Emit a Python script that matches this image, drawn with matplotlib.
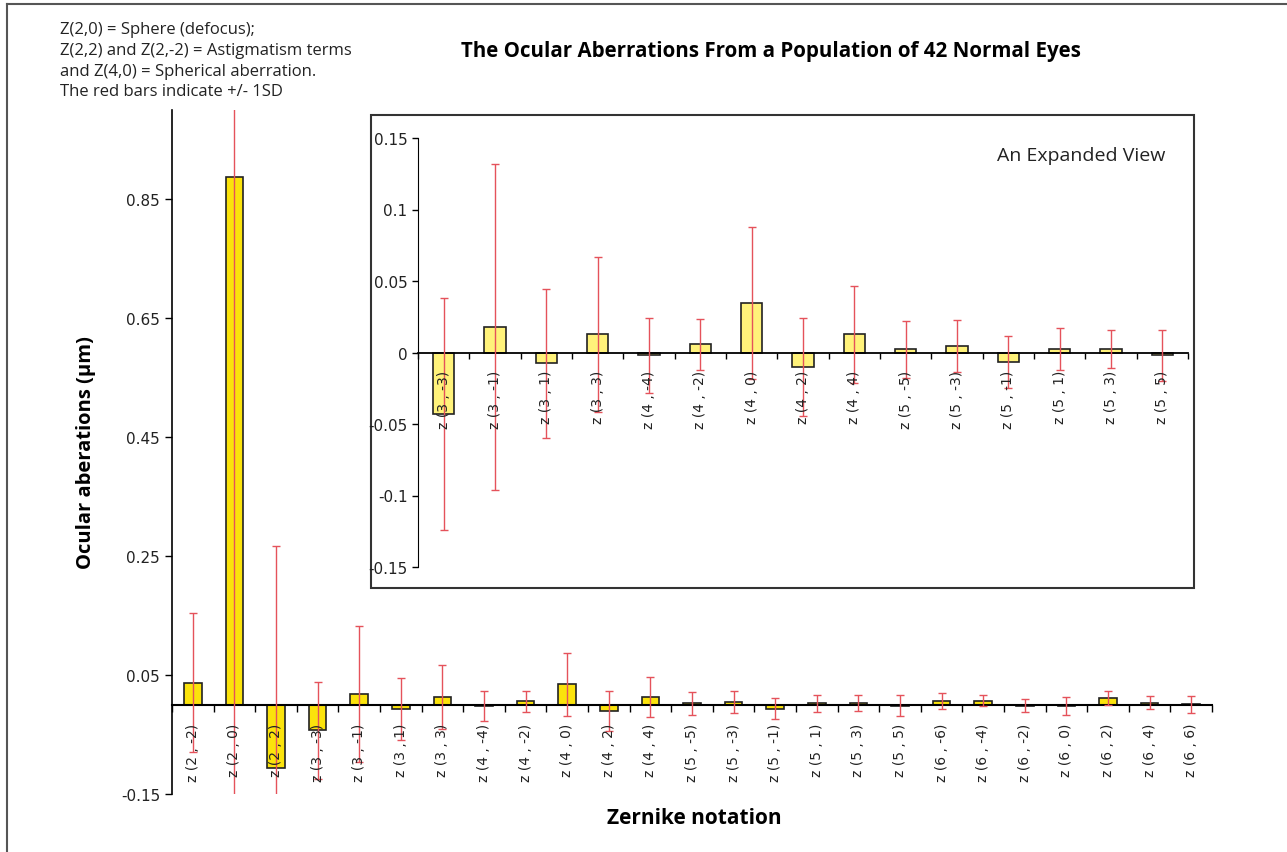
import matplotlib.pyplot as plt
import numpy as np
from matplotlib.lines import Line2D
from matplotlib.patches import Rectangle

plt.rcParams['font.family'] = ['DejaVu Sans']

# 25 zernike terms (main chart)
terms = ['2 , -2', '2 , 0', '2 , 2', '3 , -3', '3 , -1', '3 , 1', '3 , 3',
         '4 , -4', '4 , -2', '4 , 0', '4 , 2', '4 , 4', '5 , -5', '5 , -3',
         '5 , -1', '5 , 1', '5 , 3', '5 , 5', '6 , -6', '6 , -4', '6 , -2',
         '6 , 0', '6 , 2', '6 , 4', '6 , 6']
mean = [0.037, 0.888, -0.106, -0.043, 0.018, -0.0075, 0.0127,
        -0.002, 0.0056, 0.0345, -0.0102, 0.0127, 0.0023, 0.0044,
        -0.0065, 0.0023, 0.0023, -0.002, 0.0067, 0.0067, -0.0017,
        -0.002, 0.0118, 0.0034, 0.0005]
sd = [0.117, 1.08, 0.373, 0.081, 0.114, 0.052, 0.054,
      0.026, 0.0175, 0.053, 0.034, 0.034, 0.02, 0.018,
      0.018, 0.0146, 0.0134, 0.0177, 0.013, 0.009, 0.011,
      0.015, 0.012, 0.011, 0.0145]
# third to fifth order, shown in the inset
ins_start = 3
ins_end = 18

labels = ['z (' + t + ')' for t in terms]
n = len(labels)
x = np.arange(n)

fig = plt.figure(figsize=(12.87, 8.53), dpi=100)

# page frame (top and left only)
fig.add_artist(Line2D([0.0055, 0.0055], [0, 0.994], transform=fig.transFigure, color='#555555', lw=1.5))
fig.add_artist(Line2D([0.0055, 1], [0.994, 0.994], transform=fig.transFigure, color='#555555', lw=1.5))

red = '#e5525b'
ax = fig.add_axes([172 / 1287, 58 / 853, 1040 / 1287, 684 / 853])
ax.bar(x, mean, width=0.42, color='#fbe30c', edgecolor='#222222', linewidth=1.2, zorder=2)
ax.errorbar(x, mean, yerr=sd, fmt='none', ecolor=red, elinewidth=1, capsize=3, zorder=3)
ax.set_xlim(-0.5, n - 0.5)
ax.set_ylim(-0.15, 1.0)
ax.set_yticks([-0.15, 0.05, 0.25, 0.45, 0.65, 0.85])
ax.set_yticklabels(['-0.15', '0.05', '0.25', '0.45', '0.65', '0.85'], fontsize=11, color='#222222')
ax.spines['top'].set_visible(False)
ax.spines['right'].set_visible(False)
ax.spines['bottom'].set_position(('data', 0))
ax.spines['bottom'].set_linewidth(1.5)
ax.spines['left'].set_linewidth(1.2)
ax.tick_params(axis='y', length=5, width=1, direction='out')
ax.set_xticks(np.arange(n + 1) - 0.5)
ax.set_xticklabels([])
ax.tick_params(axis='x', length=5, width=1, direction='out')
for i, lab in enumerate(labels):
    ax.text(x[i], -0.03, lab, rotation=90, ha='center', va='top', fontsize=10, color='#222222', zorder=4)
ax.set_ylabel('Ocular aberations (µm)', family='Open Sans', fontweight='bold', fontsize=14.5, labelpad=18)
fig.text(694 / 1287, 1 - 819 / 853, 'Zernike notation', family='Open Sans', fontweight='bold',
         fontsize=15, ha='center', va='center')

fig.text(771 / 1287, 1 - 52 / 853, 'The Ocular Aberrations From a Population of 42 Normal Eyes',
         family='Open Sans', fontweight='bold', fontsize=14.8, ha='center', va='center')
fig.text(60 / 1287, 1 - 22 / 853,
         'Z(2,0) = Sphere (defocus);\nZ(2,2) and Z(2,-2) = Astigmatism terms\n'
         'and Z(4,0) = Spherical aberration.\nThe red bars indicate +/- 1SD',
         family='Open Sans', fontsize=12, ha='left', va='top', linespacing=1.4, color='#222222')

# inset frame
fig.add_artist(Rectangle((371 / 1287, 1 - 589 / 853), (1194 - 371) / 1287, (589 - 116) / 853,
                         transform=fig.transFigure, fill=True, facecolor='white',
                         edgecolor='#333333', lw=1.5, zorder=5))

xi = x[ins_start:ins_end]
mi = mean[ins_start:ins_end]
si = sd[ins_start:ins_end]
ni = len(xi)
ax2 = fig.add_axes([418 / 1287, 1 - 568 / 853, 770 / 1287, 429 / 853], zorder=6)
ax2.patch.set_alpha(0)
ax2.bar(np.arange(ni), mi, width=0.42, color='#fff27a', edgecolor='#222222', linewidth=1.2, zorder=2)
ax2.errorbar(np.arange(ni), mi, yerr=si, fmt='none', ecolor=red, elinewidth=1, capsize=3, zorder=3)
ax2.set_xlim(-0.5, ni - 0.5)
ax2.set_ylim(-0.15, 0.15)
ax2.set_yticks([-0.15, -0.1, -0.05, 0, 0.05, 0.1, 0.15])
ax2.set_yticklabels(['-0.15', '-0.1', '-0.05', '0', '0.05', '0.1', '0.15'], fontsize=11, color='#222222')
ax2.spines['top'].set_visible(False)
ax2.spines['right'].set_visible(False)
ax2.spines['bottom'].set_position(('data', 0))
ax2.spines['bottom'].set_linewidth(1.3)
ax2.tick_params(axis='y', length=4, width=1, direction='out')
ax2.set_xticks(np.arange(ni + 1) - 0.5)
ax2.set_xticklabels([])
ax2.tick_params(axis='x', length=4, width=1, direction='out')
for i in range(ni):
    ax2.text(i, -0.012, labels[ins_start + i], rotation=90, ha='center', va='top', fontsize=10,
             color='#222222', zorder=4)
ax2.text(0.97, 0.96, 'An Expanded View', transform=ax2.transAxes, family='Open Sans',
         fontsize=14, ha='right', va='center', color='#222222')

fig.savefig('out.png', dpi=100)
